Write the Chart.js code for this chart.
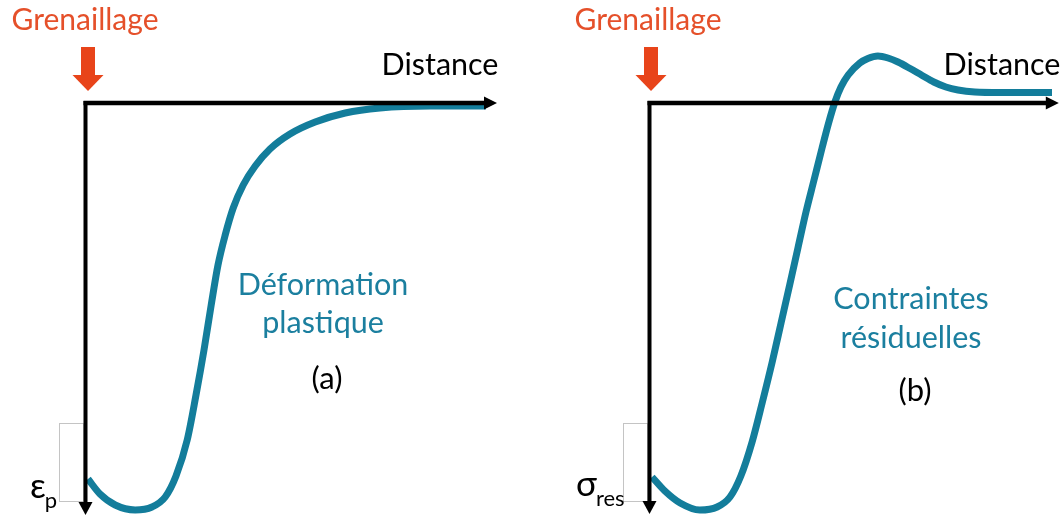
<!DOCTYPE html>
<html>
<head>
<meta charset="utf-8">
<script src="https://cdn.jsdelivr.net/npm/chart.js@4.4.1/dist/chart.umd.min.js"></script>
<style>
  html, body { margin: 0; padding: 0; background: #ffffff; }
  #wrap { position: relative; width: 1064px; height: 517px; overflow: hidden; background: #fff; }
  canvas { position: absolute; top: 0; }
  #cA { left: 0; }
  #cB { left: 532px; }
</style>
</head>
<body>
<div id="wrap">
  <canvas id="cA" width="532" height="517"></canvas>
  <canvas id="cB" width="532" height="517"></canvas>
</div>
<script>
// ---- Data (schematic values) ----
// Panel (a): plastic strain vs distance from surface
const distanceA = [0.5, 3.5, 7.3, 12.3, 16.5, 19.8, 22.5, 25.3, 27.5, 29.5, 31.3, 33, 34.8, 36.8, 39.3, 42.3, 46, 51, 57.3, 64.8, 73.5, 86, 100];
const strainA   = [75.2, 78.2, 80.4, 81.4, 80.8, 78.8, 74.6, 67.4, 58.4, 49.4, 40.4, 32.4, 26.4, 21, 16.4, 12.6, 9.2, 6.2, 3.8, 2, 1, 0.6, 0.6];
// Panel (b): residual stress vs distance from surface
const distanceB = [0.5, 3.7, 7.5, 12.4, 16.7, 19.9, 22.6, 25.4, 27.9, 30.4, 32.6, 34.8, 36.8, 38.8, 40.8, 42.8, 44.5, 46, 47.5, 49.3, 52.2, 54.2, 56.7, 59.2, 61.7, 64.7, 67.7, 70.6, 73.6, 76.6, 80.8, 87.1, 100];
const stressB   = [74.8, 77.6, 80, 81.4, 80.8, 78.8, 74.6, 67.8, 60, 51.8, 44, 36.2, 29, 21.8, 15.4, 9, 3.8, -0.2, -3.2, -5.6, -8, -8.9, -9.4, -9, -8.2, -6.9, -5.5, -4.2, -3.2, -2.6, -2.2, -2.1, -2.1];

// ---- Text labels ----
const labelsA = { top: 'Grenaillage', axis: 'Distance', title: ['Déformation', 'plastique'], tag: '(a)', sym: 'ε', sub: 'p' };
const labelsB = { top: 'Grenaillage', axis: 'Distance', title: ['Contraintes', 'résiduelles'], tag: '(b)', sym: 'σ', sub: 'res' };

const TEAL = '#137D9B';
const TEAL_TXT = '#1B7F9F';
const ORANGE = '#E8441A';
const ORANGE_TXT = '#E5502A';
const FONT = 'Lato, "Open Sans", sans-serif';

const decor = {
  id: 'decor',
  afterDatasetsDraw(chart, args, o) {
    const ctx = chart.ctx;
    const xs = chart.scales.x, ys = chart.scales.y;
    const off = o.offset;
    const x0 = xs.getPixelForValue(0) - 0.5;
    const y0 = ys.getPixelForValue(0);
    const xEnd = xs.getPixelForValue(o.axisEnd);
    const yEnd = o.axisBottomPx;
    ctx.save();
    // small grey box next to the vertical axis
    ctx.strokeStyle = '#C4C4C4';
    ctx.lineWidth = 1;
    ctx.strokeRect(o.box[0] - off + 0.5, o.box[1] + 0.5, o.box[2], o.box[3]);
    // axes
    ctx.strokeStyle = '#000';
    ctx.fillStyle = '#000';
    ctx.lineWidth = 4.5;
    ctx.beginPath();
    ctx.moveTo(x0 - 2, y0);
    ctx.lineTo(xEnd - 11, y0);
    ctx.stroke();
    ctx.beginPath();
    ctx.moveTo(xEnd, y0);
    ctx.lineTo(xEnd - 13, y0 - 6.5);
    ctx.lineTo(xEnd - 13, y0 + 6.5);
    ctx.closePath();
    ctx.fill();
    ctx.lineWidth = 4;
    ctx.beginPath();
    ctx.moveTo(x0, y0 - 2);
    ctx.lineTo(x0, yEnd - 11);
    ctx.stroke();
    ctx.beginPath();
    ctx.moveTo(x0, yEnd);
    ctx.lineTo(x0 - 7, yEnd - 13);
    ctx.lineTo(x0 + 7, yEnd - 13);
    ctx.closePath();
    ctx.fill();
    // orange "shot peening" arrow
    const ax = o.arrowX - off;
    ctx.fillStyle = ORANGE;
    ctx.fillRect(ax - 7, 47, 14, 29);
    ctx.beginPath();
    ctx.moveTo(ax - 15.5, 75);
    ctx.lineTo(ax + 15.5, 75);
    ctx.lineTo(ax, 91);
    ctx.closePath();
    ctx.fill();
    // texts
    const L = o.labels;
    ctx.textBaseline = 'alphabetic';
    ctx.textAlign = 'center';
    ctx.fillStyle = ORANGE_TXT;
    ctx.font = '30px ' + FONT;
    ctx.fillText(L.top, o.topX - off, 30);
    ctx.fillStyle = '#000';
    ctx.font = '30.5px ' + FONT;
    ctx.fillText(L.axis, o.axisLblX - off, 75);
    ctx.fillStyle = TEAL_TXT;
    ctx.font = '30.5px ' + FONT;
    ctx.fillText(L.title[0], o.titleX - off, o.titleY[0]);
    ctx.fillText(L.title[1], o.titleX - off, o.titleY[1]);
    ctx.fillStyle = '#000';
    ctx.font = '31px ' + FONT;
    ctx.fillText(L.tag, o.tagX - off, o.tagY);
    ctx.textAlign = 'left';
    ctx.font = '35px ' + FONT;
    ctx.fillText(L.sym, o.symX - off, o.symY);
    const w = ctx.measureText(L.sym).width;
    ctx.font = '22px ' + FONT;
    ctx.fillText(L.sub, o.symX - off + w - 1, o.symY + 10);
    ctx.restore();
  }
};

function makeChart(id, xs, ys, pad, deco) {
  const pts = xs.map((x, i) => ({ x: x, y: ys[i] }));
  return new Chart(document.getElementById(id), {
    type: 'line',
    data: { datasets: [{
      data: pts,
      borderColor: TEAL,
      borderWidth: 7,
      pointRadius: 0,
      fill: false,
      cubicInterpolationMode: 'monotone',
      clip: false
    }]},
    options: {
      responsive: false,
      animation: false,
      devicePixelRatio: 1,
      layout: { padding: pad },
      plugins: { legend: { display: false }, tooltip: { enabled: false }, decor: deco },
      scales: {
        x: { type: 'linear', min: 0, max: 100, display: false },
        y: { type: 'linear', min: -10, max: 82, reverse: true, display: false }
      }
    },
    plugins: [decor]
  });
}

makeChart('cA', distanceA, strainA, { left: 86, right: 46, top: 53, bottom: 4 }, {
  offset: 0, axisEnd: 102.75, axisBottomPx: 515, box: [59, 423, 24, 78], arrowX: 88,
  labels: labelsA, topX: 85, axisLblX: 440, titleX: 323, titleY: [295, 333], tagX: 327, tagY: 389,
  symX: 30, symY: 498
});
makeChart('cB', distanceB, stressB, { left: 118, right: 12, top: 53, bottom: 4 }, {
  offset: 532, axisEnd: 101.7, axisBottomPx: 514, box: [623, 423, 24, 78], arrowX: 651,
  labels: labelsB, topX: 648, axisLblX: 1002, titleX: 911, titleY: [309, 348], tagX: 915, tagY: 401,
  symX: 576, symY: 496
});
</script>
</body>
</html>
